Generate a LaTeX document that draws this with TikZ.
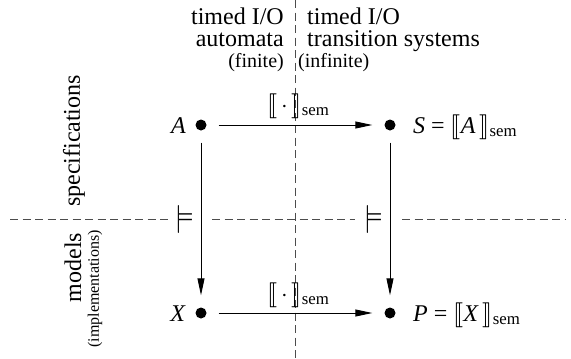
\documentclass[tikz,border=0pt]{standalone}
\usepackage{fix-cm}
\usepackage{amsmath}
\usepackage{stmaryrd}
\usepackage{fontspec}
\setmainfont{Liberation Serif}
\usetikzlibrary{arrows.meta}
\newcommand{\semof}[1]{$\llbracket\text{#1}\rrbracket_{\text{sem}}$}
\tikzset{
  dotnode/.style={circle, fill=black, inner sep=0pt, minimum size=11pt},
  sepline/.style={dash pattern=on 8pt off 4.5pt, draw=black!70, line width=0.8pt},
  arr/.style={line width=0.9pt, -{Triangle[length=17pt,width=7pt]}, shorten <=12pt, shorten >=12pt},
  bigtxt/.style={inner sep=0pt, font=\fontsize{24}{28}\selectfont},
  midtxt/.style={inner sep=0pt, font=\fontsize{20}{24}\selectfont},
  smalltxt/.style={inner sep=0pt, font=\fontsize{16}{19}\selectfont},
  modelsym/.style={inner sep=0pt, font=\fontsize{28}{32}\selectfont},
}
\begin{document}
\begin{tikzpicture}[x=1pt,y=-1pt]
\useasboundingbox (0,0) rectangle (571,359);
% separators
\draw[sepline] (295,0) -- (295,359);
\draw[sepline] (10,219) -- (168,219);
\draw[sepline] (212,219) -- (355,219);
\draw[sepline] (402,219) -- (565,219);
% column headers
\node[bigtxt, anchor=base east] (h1) at (284,24) {timed I/O};
\node[bigtxt, anchor=base east] (h2) at (284,46.5) {automata};
\node[midtxt, anchor=base east] (h3) at (284,67) {(finite)};
\node[bigtxt, anchor=base west] (h4) at (307,24) {timed I/O};
\node[bigtxt, anchor=base west] (h5) at (307,46.5) {transition systems};
\node[midtxt, anchor=base west] (h6) at (298,67) {(infinite)};
% row headers
\node[bigtxt, rotate=90] (r1) at (74,141) {specifications};
\node[bigtxt, rotate=90] (r2) at (73,267.5) {models};
\node[smalltxt, rotate=90] (r3) at (95,289) {(implementations)};
% dots
\node[dotnode] (A) at (201,125) {};
\node[dotnode] (S) at (390,125) {};
\node[dotnode] (X) at (201,313) {};
\node[dotnode] (P) at (390,313) {};
% labels
\node[bigtxt, anchor=base east] (lA) at (186,133) {\textit{A}};
\node[bigtxt, anchor=base east] (lX) at (186,321) {\textit{X}};
\node[bigtxt, anchor=base west] (lS) at (413,133) {\textit{S} = \semof{\textit{A}\,}};
\node[bigtxt, anchor=base west] (lP) at (413,321) {\textit{P} = \semof{\textit{X}\,}};
\node[bigtxt, anchor=base west] (t1) at (267,112) {\semof{\,$\cdot$\,}};
\node[bigtxt, anchor=base west] (t2) at (267,301) {\semof{\,$\cdot$\,}};
% arrows
\draw[arr] (A) -- (S);
\draw[arr] (X) -- (P);
\draw[arr] (A) -- (X);
\draw[arr] (S) -- (P);
% models symbols
\node[modelsym] (m1) at (184,219.5) {$\models$};
\node[modelsym] (m2) at (373,219.5) {$\models$};
\end{tikzpicture}
\end{document}
